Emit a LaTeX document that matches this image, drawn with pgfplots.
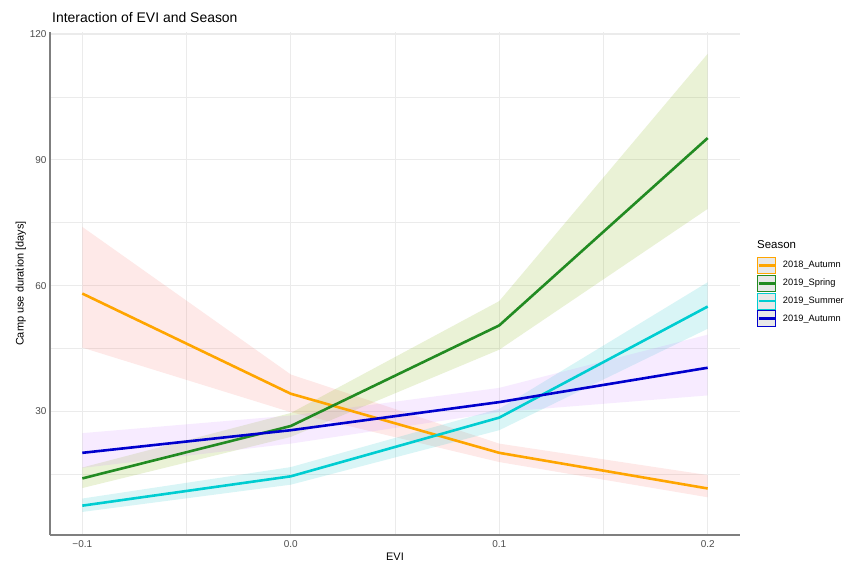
\documentclass[border=0pt]{standalone}
\usepackage{fontspec}
\setmainfont{Liberation Sans}
\usepackage{pgfplots}
\pgfplotsset{compat=1.18}
\definecolor{lOrange}{HTML}{FFA500}
\definecolor{lGreen}{HTML}{228B22}
\definecolor{lCyan}{HTML}{00CDD1}
\definecolor{lBlue}{HTML}{0000CD}
\definecolor{rOrange}{HTML}{F8766D}
\definecolor{rGreen}{HTML}{7CAE00}
\definecolor{rCyan}{HTML}{00BFC4}
\definecolor{rPurple}{HTML}{C77CFF}
\definecolor{gridc}{HTML}{EBEBEB}
\definecolor{axisc}{HTML}{7F7F7F}
\definecolor{tickc}{HTML}{4D4D4D}
\pgfplotsset{
  keyimg/.style={legend image code/.code={
    \draw[draw=#1, fill=gray!18, line width=0.8bp] (0bp,-8bp) rectangle (18bp,8bp);
    \draw[draw=#1, line width=2.8bp] (1bp,0bp) -- (17bp,0bp);}}
}
\begin{document}
\begin{tikzpicture}[x=1bp,y=1bp]
\path[use as bounding box] (-50,-28) rectangle (809,535);
\begin{axis}[at={(0,0)}, anchor=south west, scale only axis,
  width=690bp, height=503bp,
  xmin=-0.1155, xmax=0.2155, ymin=0.5, ymax=120.5,
  axis x line*=bottom, axis y line*=left,
  axis line style={-, line width=2.2bp, color=axisc},
  xtick={-0.1,0,0.1,0.2}, xticklabels={−0.1,0.0,0.1,0.2},
  minor xtick={-0.05,0.05,0.15},
  ytick={30,60,90,120}, minor ytick={15,45,75,105},
  grid=both,
  major grid style={color=gridc, line width=1.3bp},
  minor grid style={color=gridc, line width=0.75bp},
  major tick style={draw=none}, minor tick style={draw=none},
  /pgf/number format/assume math mode=true,
  xticklabel style={yshift=-2bp},
  tick label style={font=\fontsize{10}{11}\selectfont, color=tickc},
  yticklabel style={xshift=0bp},
  xlabel={EVI}, ylabel={Camp use duration [days]},
  label style={font=\fontsize{11}{12}\selectfont},
  xlabel style={yshift=1bp},
  ylabel style={yshift=-3bp},
  title={Interaction of EVI and Season},
  title style={font=\fontsize{14}{15}\selectfont, at={(0,1)}, anchor=south west, xshift=2bp, yshift=3bp, inner sep=0pt},
  legend cell align=left,
  legend style={at={(axis description cs:1.0246,0.553)}, anchor=north west, draw=none, fill=none,
    inner sep=0pt, row sep=1.0bp, column sep=5bp, font=\fontsize{9.3}{10}\selectfont},
]
% ribbons
\addplot[fill=rOrange, fill opacity=0.16, draw=none, forget plot] coordinates {
 (-0.1,74.0) (0.0,38.8) (0.1,22.3) (0.2,14.8) (0.2,9.5) (0.1,17.9) (0.0,29.8) (-0.1,45.2)} -- cycle;
\addplot[fill=rGreen, fill opacity=0.16, draw=none, forget plot] coordinates {
 (-0.1,16.6) (0.0,29.6) (0.1,56.3) (0.2,115.3) (0.2,78.3) (0.1,44.7) (0.0,23.9) (-0.1,11.7)} -- cycle;
\addplot[fill=rCyan, fill opacity=0.15, draw=none, forget plot] coordinates {
 (-0.1,9.2) (0.0,16.7) (0.1,30.6) (0.2,60.8) (0.2,49.7) (0.1,25.5) (0.0,12.5) (-0.1,6.0)} -- cycle;
\addplot[fill=rPurple, fill opacity=0.15, draw=none, forget plot] coordinates {
 (-0.1,24.8) (0.0,29.0) (0.1,35.6) (0.2,48.3) (0.2,33.8) (0.1,29.8) (0.0,22.3) (-0.1,16.5)} -- cycle;
% lines
\addplot[lOrange, line width=2.6bp, forget plot] coordinates {(-0.1,58.1) (0.0,34.2) (0.1,20.1) (0.2,11.6)};
\addplot[lGreen, line width=2.6bp, forget plot] coordinates {(-0.1,14.0) (0.0,26.5) (0.1,50.5) (0.2,95.2)};
\addplot[lCyan, line width=2.6bp, forget plot] coordinates {(-0.1,7.5) (0.0,14.5) (0.1,28.5) (0.2,55.0)};
\addplot[lBlue, line width=2.6bp, forget plot] coordinates {(-0.1,20.1) (0.0,25.5) (0.1,32.2) (0.2,40.4)};
\addlegendimage{keyimg=lOrange}\addlegendentry{2018\_Autumn}
\addlegendimage{keyimg=lGreen}\addlegendentry{2019\_Spring}
\addlegendimage{keyimg=lCyan}\addlegendentry{2019\_Summer}
\addlegendimage{keyimg=lBlue}\addlegendentry{2019\_Autumn}
\end{axis}
\node[anchor=west, inner sep=0pt, font=\fontsize{11.5}{12}\selectfont] at (707,290) {Season};
\end{tikzpicture}
\end{document}
